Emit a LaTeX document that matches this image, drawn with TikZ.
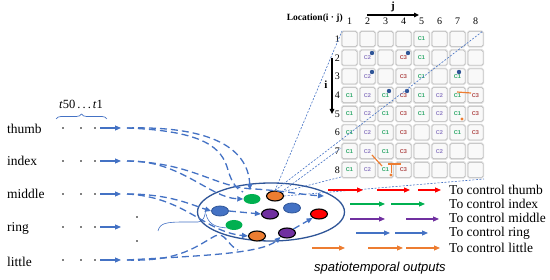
\documentclass[tikz,border=0pt]{standalone}
\usepackage{fontspec}
\setmainfont{Liberation Serif}
\setsansfont{Liberation Sans}
\usetikzlibrary{arrows.meta,decorations.pathreplacing,shapes.geometric}
\definecolor{inblue}{HTML}{4472C4}
\definecolor{dkblue}{HTML}{2F5597}
\definecolor{cgreen}{HTML}{00B050}
\definecolor{cpurple}{HTML}{7030A0}
\definecolor{corange}{HTML}{ED7D31}
\definecolor{cred}{HTML}{FF0000}
\definecolor{tcone}{HTML}{2EA86A}
\definecolor{tctwo}{HTML}{8E7CC3}
\definecolor{tcthree}{HTML}{B04A4A}
\begin{document}
\begin{tikzpicture}[x=1pt,y=-1pt,
  lbl/.style={font=\fontsize{13.5}{15}\selectfont, anchor=west, inner sep=0},
  outlbl/.style={font=\fontsize{13.5}{15}\selectfont, anchor=west, inner sep=0},
  tip/.style={-{Triangle[length=6pt,width=5pt]}},
  inarrow/.style={inblue, line width=1.1pt, tip},
  outarrow/.style={line width=1.1pt, tip},
  conn/.style={inblue, line width=1.3pt, dash pattern=on 7pt off 4pt},
  fan/.style={inblue, line width=0.6pt, dash pattern=on 2pt off 1.5pt},
  cell/.style={draw=gray!55, fill=gray!5, rounded corners=1.5pt, minimum size=15pt,
     inner sep=0, line width=0.5pt, preaction={draw=gray!25, line width=2.4pt}},
  ctext/.style={font=\sffamily\bfseries\fontsize{5.6}{6}\selectfont, inner sep=0},
  C1/.style={text=tcone}, C2/.style={text=tctwo}, C3/.style={text=tcthree},
  oval/.style={ellipse, minimum width=17pt, minimum height=10pt, inner sep=0},
  blk/.style={oval, draw=black, line width=1.1pt},
  glab/.style={font=\fontsize{10}{11}\selectfont, inner sep=0},
  gdot/.style={fill=dkblue},
  omark/.style={corange, line width=1.2pt}
]
\useasboundingbox (0,0) rectangle (550,280);

% ---------- inputs ----------
\node[lbl] (thumb)  at (7,129) {thumb};
\node[lbl] (index)  at (7,161) {index};
\node[lbl] (middle) at (7,194) {middle};
\node[lbl] (ring)   at (7,228) {ring};
\node[lbl] (little) at (7,262) {little};
\foreach \nm/\yy in {t/128,i/161,m/194,r/227,l/260}{
  \foreach \xx in {63,81,95}{\fill (\xx,\yy) circle (0.95);}
  \coordinate (\nm a) at (100,\yy);
  \coordinate (\nm b) at (121,\yy);
  \coordinate (\nm s) at (127,\yy);
  \draw[inarrow] (\nm a) -- (\nm b);
}
\fill (137,217) circle (0.95);
\fill (137,241) circle (0.95);
\coordinate (brL) at (56,119);
\coordinate (brR) at (107,119);
\draw[inblue, line width=0.7pt, decorate, decoration={brace, amplitude=5pt}] (brL) -- (brR);
\node[font=\fontsize{12.5}{14}\selectfont, inner sep=0] (tlab) at (81,104) {\textit{t}50\,.\,.\,.\,\textit{t}1};
% brace near ring
\draw[inblue, line width=0.6pt] (158,231) .. controls (160,223) and (166,222) .. (185,222)
   -- (198,222) .. controls (203,222) and (205,217) .. (206,208);
\draw[inblue, line width=0.6pt] (206,214) .. controls (208,223) and (214,228) .. (230,228);

% ---------- reservoir ----------
\node[draw=dkblue, line width=1.3pt, ellipse, minimum width=147pt, minimum height=58pt] (res) at (271,212) {};
\node[oval, fill=cgreen] (g1) at (252,199) {};
\node[blk, fill=corange] (o1) at (275,196) {};
\node[oval, fill=inblue, draw=dkblue, line width=0.8pt] (b1) at (220,211) {};
\node[blk, fill=cpurple] (p1) at (270,214) {};
\node[oval, fill=inblue, draw=dkblue, line width=0.8pt] (b2) at (292,208) {};
\node[blk, fill=cred] (r1) at (319,214) {};
\node[oval, fill=cgreen] (g2) at (234,225) {};
\node[blk, fill=corange] (o2) at (257,236) {};
\node[blk, fill=cpurple] (p2) at (287,233) {};

% ---------- dashed connections ----------
\coordinate (rgt) at (324,196);
\draw[conn, tip] (ts) .. controls (205,126) and (248,145) .. (250,190);
\draw[conn] (ts) .. controls (205,131) and (222,148) .. (228,170) .. controls (232,184) and (238,190) .. (243,192);
\draw[conn, tip] (is) .. controls (180,160) and (210,198) .. (g1.west);
\draw[conn, tip] (is) .. controls (195,163) and (215,188) .. (255,189) .. controls (285,191) and (305,195) .. (rgt);
\draw[conn, tip] (ms) .. controls (170,194) and (192,205) .. (b1.west);
\draw[conn, tip] (b1.east) -- (p1.west);
\draw[conn, tip] (ms) .. controls (185,197) and (205,232) .. (o2.west);
\draw[conn, tip] (ls) .. controls (195,256) and (262,254) .. (p2.south west);
\draw[conn] (ls) .. controls (180,262) and (198,245) .. (215,236) .. controls (225,231) and (228,246) .. (238,250);
\draw[conn, tip] (p2.north east) -- (r1.south west);

% ---------- grid ----------
\foreach \i in {1,...,8}{
  \foreach \j in {1,...,8}{
    \node[cell] (c\i\j) at ({349.5+(\j-1)*18},{39+(\i-1)*18.7}) {};
  }
}
\foreach \i/\j/\k in {1/5/1,
  2/2/2,2/4/3,2/5/1,
  3/2/2,3/4/3,3/5/1,3/7/1,
  4/1/1,4/2/2,4/3/1,4/4/3,4/5/1,4/6/2,4/7/1,4/8/3,
  5/1/1,5/2/2,5/3/1,5/4/3,5/5/1,5/6/2,5/7/1,5/8/3,
  6/1/1,6/2/2,6/3/1,6/4/3,6/6/2,6/7/1,6/8/3,
  7/1/1,7/2/2,7/3/1,7/4/3,7/6/2,
  8/1/1,8/2/2,8/3/1,8/4/3}{
  \node[ctext, C\k] (t\i\j) at (c\i\j) {C\k};
}
\foreach \j in {1,...,8}{
  \node[glab] (col\j) at ({349.5+(\j-1)*18},21) {\j};
}
\foreach \i in {1,...,8}{
  \node[glab, anchor=east] (row\i) at ({340},{39+(\i-1)*18.7}) {\i};
}
\node[font=\bfseries\fontsize{9.5}{11}\selectfont, anchor=east, inner sep=0] (loc) at (343,18) {Location(i · j)};
\coordinate (ja) at (367,15);
\coordinate (jb) at (419,15);
\draw[black, line width=1.1pt, -{Triangle[length=5pt,width=4.5pt]}] (ja) -- (jb);
\node[font=\bfseries\fontsize{11}{12}\selectfont, inner sep=0] (jlab) at (393,7) {j};
\coordinate (ia) at (332,58);
\coordinate (ib) at (332,114);
\draw[black, line width=1.1pt, -{Triangle[length=5pt,width=4.5pt]}] (ia) -- (ib);
\node[font=\bfseries\fontsize{11}{12}\selectfont, inner sep=0] (ilab) at (326,85) {i};
% blue dots
\foreach \xx/\yy in {372/53,408/53,372/72,459/72,389/91,407/91}{
  \fill[gdot] (\xx,\yy) circle (2.2);
}
% orange marks
\draw[omark] (457,92) -- (471,93);
\fill[corange] (462,119) circle (1.6);
\draw[omark] (372,155) -- (382,166);
\draw[omark] (388,164) -- (401,164);
\draw[corange, line width=0.8pt] (391,164) -- (391,173);
\fill[corange] (391,175) circle (1.6);

% ---------- fan lines ----------
\coordinate (gTL) at (342,31);
\coordinate (gTR) at (483,31);
\coordinate (gL7) at (341,148);
\coordinate (gBL) at (341,177);
\coordinate (gBR) at (484,179);
\draw[fan] (o1.north) -- (gTL);
\draw[fan] (o1.north) -- (gTR);
\draw[fan] (o1.north east) -- (gL7);
\draw[fan] (o1.north east) -- (gBL);
\draw[fan] (o1.east) -- (gBR);

% ---------- outputs ----------
\draw[outarrow, cred] (328,190) -- (363,190);
\draw[outarrow, cred] (377,190) -- (410,190);
\draw[outarrow, cred] (418,190) -- (441,190);
\draw[outarrow, cgreen] (350,204) -- (385,204);
\draw[outarrow, cgreen] (391,204) -- (425,204);
\draw[outarrow, cpurple] (350,219) -- (385,219);
\draw[outarrow, cpurple] (406,219) -- (439,219);
\draw[outarrow, inblue] (356,233) -- (390,233);
\draw[outarrow, inblue] (395,233) -- (428,233);
\draw[outarrow, corange] (312,248) -- (345,248);
\draw[outarrow, corange] (368,248) -- (403,248);
\draw[outarrow, corange] (406,248) -- (440,248);
\node[outlbl] (o-thumb)  at (449,190) {To control thumb};
\node[outlbl] (o-index)  at (449,204) {To control index};
\node[outlbl] (o-middle) at (449,218) {To control middle};
\node[outlbl] (o-ring)   at (449,233) {To control ring};
\node[outlbl] (o-little) at (449,248) {To control little};
\node[font=\sffamily\itshape\fontsize{13}{15}\selectfont, inner sep=0] (sto) at (380,268) {spatiotemporal outputs};
\end{tikzpicture}
\end{document}
